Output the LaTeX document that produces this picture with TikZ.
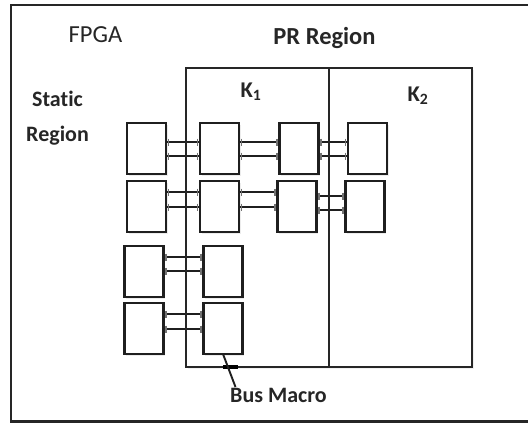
\documentclass[tikz,border=0pt]{standalone}
\usepackage{fontspec}
\setmainfont[Ligatures=NoCommon]{Carlito}
\usetikzlibrary{shadows}
\begin{document}
\begin{tikzpicture}[x=1pt,y=-1pt,
  frame/.style={draw=black!85,line width=2.2pt},
  region/.style={draw=black!85,line width=2.1pt},
  blk/.style={draw=black!88,line width=2.2pt,fill=white,minimum width=39pt,minimum height=51pt,inner sep=0pt,
    drop shadow={shadow xshift=1.5pt,shadow yshift=-1.5pt,opacity=0.15}},
  wire/.style={draw=black!88,line width=1.9pt},
  stub/.style={draw=black!55,line width=1.6pt},
  lbl/.style={inner sep=0pt,anchor=base,text=black!85},
]
\useasboundingbox (0,0) rectangle (528,423);
% outer FPGA frame (right edge lies beyond the picture)
\draw[frame] (540,5) -- (11,5) -- (11,421.5) -- (540,421.5);
% PR region
\draw[region,fill=white,drop shadow={shadow xshift=1.5pt,shadow yshift=-1.5pt,opacity=0.12}] (186,68) rectangle (472,367);
\coordinate (divtop) at (329,68);
\coordinate (divbot) at (329,367);
\draw[region] (divtop) -- (divbot);
% labels
\node[lbl,font=\fontsize{24.5}{28}\selectfont] (fpga) at (95.5,42) {FPGA};
\node[lbl,font=\fontsize{24.5}{28}\selectfont\bfseries] (pr) at (324.5,45) {PR Region};
\node[lbl,font=\fontsize{22.5}{26}\selectfont\bfseries] (k1) at (251,97) {K\textsubscript{1}};
\node[lbl,font=\fontsize{22.5}{26}\selectfont\bfseries] (k2) at (418,101) {K\textsubscript{2}};
\node[lbl,font=\fontsize{22}{35}\selectfont\bfseries,align=center,anchor=north] (static) at (57.5,91) {Static\\Region};
\node[lbl,font=\fontsize{22}{26}\selectfont\bfseries] (bus) at (278.5,402) {Bus Macro};
% blocks: row 1
\node[blk] (a1) at (146.5,148.5) {};
\node[blk] (a2) at (219.5,148.5) {};
\node[blk] (a3) at (299,148.5) {};
\node[blk] (a4) at (367.5,148.5) {};
% row 2
\node[blk] (b1) at (146.5,206.5) {};
\node[blk] (b2) at (219.5,206.5) {};
\node[blk] (b3) at (297,206.5) {};
\node[blk] (b4) at (365,206.5) {};
% row 3
\node[blk] (c1) at (144,271.5) {};
\node[blk] (c2) at (223,271.5) {};
% row 4
\node[blk] (d1) at (144,328.5) {};
\node[blk] (d2) at (223,328.5) {};
% bus macro wire pairs
\foreach \l/\r/\ya/\yb in {a1/a2/142/156, a2/a3/142/156, a3/a4/142/156,
                           b1/b2/192/207, b2/b3/192/207, b3/b4/196/210,
                           c1/c2/257/271, d1/d2/314/329}{
  \foreach \y in {\ya,\yb}{
    \draw[wire] (\l.east |- 0,\y) -- (\r.west |- 0,\y);
    \draw[stub] ([xshift=1.5pt]\l.east |- 0,\y-3.5) -- ([xshift=1.5pt]\l.east |- 0,\y+3.5);
    \draw[stub] ([xshift=-1.5pt]\r.west |- 0,\y-3.5) -- ([xshift=-1.5pt]\r.west |- 0,\y+3.5);
  }
}
% redraw region boundaries on top of wires
\draw[region] (186,68) -- (186,367);
\draw[region] (divtop) -- (divbot);
% bus macro pointer
\coordinate (mark1) at (223,367);
\coordinate (mark2) at (238,367);
\draw[black,line width=3.2pt] (mark1) -- (mark2);
\coordinate (ptr) at (223,354);
\draw[wire] (ptr) -- ([xshift=-43pt,yshift=15pt]bus.base);
\end{tikzpicture}
\end{document}
